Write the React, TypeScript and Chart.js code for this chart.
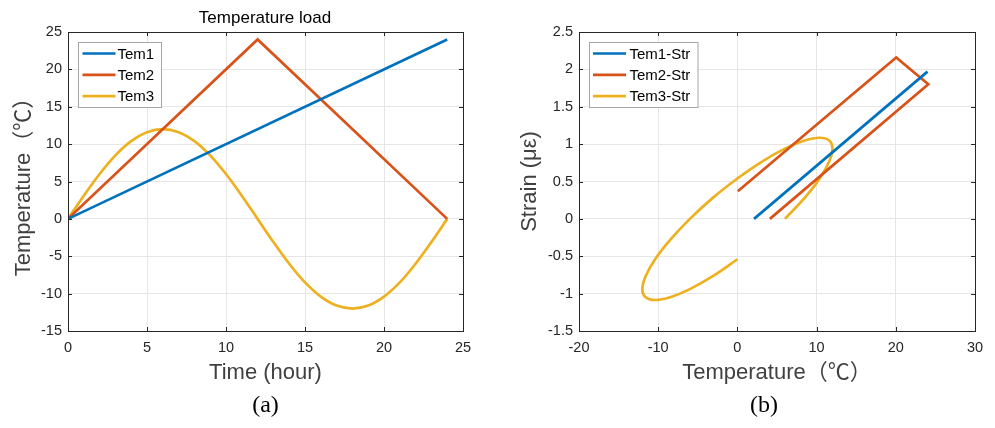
import React, { useEffect, useRef } from "react";
import { Chart, registerables } from "chart.js";

Chart.register(...registerables);

// ---------- data ----------
const tem1Time = [0, 24];
const tem1Temp = [0, 24];
const tem2Time = [0, 12, 24];
const tem2Temp = [0, 24, 0];
const tem3Time = [0, 1, 2, 3, 4, 5, 6, 7, 8, 9, 10, 11, 12, 13, 14, 15, 16, 17, 18, 19, 20, 21, 22, 23, 24];
const tem3Temp = [0, 3.1, 6, 8.5, 10.4, 11.6, 12, 11.6, 10.4, 8.5, 6, 3.1, 0, -3.1, -6, -8.5, -10.4, -11.6, -12, -11.6, -10.4, -8.5, -6, -3.1, 0];

const tem1StrTemp = [2.1, 24];
const tem1Strain = [0, 1.97];
const tem2StrTemp = [4.1, 24.1, 20.05, 0.05];
const tem2Strain = [0, 1.8, 2.16, 0.37];
const tem3StrTemp = [6.0, 8.49, 10.39, 11.59, 12, 11.59, 10.39, 8.49, 6.0, 3.11, 0, -3.11, -6.0, -8.49, -10.39, -11.59, -12, -11.59, -10.39, -8.49, -6.0, -3.11, 0];
const tem3Strain = [0, 0.281, 0.54, 0.767, 0.94, 1.048, 1.085, 1.048, 0.94, 0.767, 0.54, 0.281, 0, -0.281, -0.54, -0.767, -0.94, -1.048, -1.085, -1.048, -0.94, -0.767, -0.54];

const leftLabels = ["Tem1", "Tem2", "Tem3"];
const rightLabels = ["Tem1-Str", "Tem2-Str", "Tem3-Str"];
const seriesColors = ["#0072BD", "#D95319", "#EDB120"];

const SANS = "'Liberation Sans', Arial, 'Noto Sans CJK SC', sans-serif";
const SERIF = "'Liberation Serif', 'Times New Roman', serif";

function pts(xs: number[], ys: number[]) {
  return xs.map((x, i) => ({ x, y: ys[i] }));
}

type PanelCfg = {
  width: number;
  height: number;
  plotLeft: number;
  plotRight: number;
  plotTop: number;
  plotBottom: number;
  xMin: number;
  xMax: number;
  xStep: number;
  yMin: number;
  yMax: number;
  yStep: number;
  datasets: any[];
  legendLabels: string[];
  legendBox: { dx: number; dy: number; w: number; h: number; lineX0: number; lineX1: number; textX: number };
  xTitle: string;
  yTitle: string;
  yTitleX: number;
  xTitleY: number;
  topTitle?: string;
  topTitleX?: number;
  tag: string;
  tagX: number;
};

function fmt(v: number) {
  return String(Number(v.toFixed(3)));
}

function makeDeco(cfg: PanelCfg) {
  return {
    id: "deco",
    afterDraw(chart: any) {
      const ctx = chart.ctx as CanvasRenderingContext2D;
      const a = chart.chartArea;
      const xs = chart.scales.x;
      const ys = chart.scales.y;
      ctx.save();
      // box
      ctx.strokeStyle = "#262626";
      ctx.lineWidth = 1;
      ctx.strokeRect(Math.round(a.left) + 0.5, Math.round(a.top) + 0.5, Math.round(a.right - a.left), Math.round(a.bottom - a.top));
      // inner ticks
      const tl = 4;
      ctx.beginPath();
      xs.ticks.forEach((t: any) => {
        const px = Math.round(xs.getPixelForValue(t.value)) + 0.5;
        ctx.moveTo(px, a.bottom);
        ctx.lineTo(px, a.bottom - tl);
        ctx.moveTo(px, a.top);
        ctx.lineTo(px, a.top + tl);
      });
      ys.ticks.forEach((t: any) => {
        const py = Math.round(ys.getPixelForValue(t.value)) + 0.5;
        ctx.moveTo(a.left, py);
        ctx.lineTo(a.left + tl, py);
        ctx.moveTo(a.right, py);
        ctx.lineTo(a.right - tl, py);
      });
      ctx.stroke();

      // legend
      const lb = cfg.legendBox;
      const bx = Math.round(a.left + lb.dx) + 0.5;
      const by = Math.round(a.top + lb.dy) + 0.5;
      ctx.fillStyle = "#ffffff";
      ctx.fillRect(bx, by, lb.w, lb.h);
      ctx.strokeStyle = "#a6a6a6";
      ctx.lineWidth = 1;
      ctx.strokeRect(bx, by, lb.w, lb.h);
      ctx.font = `15px ${SANS}`;
      ctx.textBaseline = "middle";
      ctx.textAlign = "left";
      cfg.legendLabels.forEach((lab, i) => {
        const ry = by + 11 + i * 21.3;
        ctx.strokeStyle = seriesColors[i];
        ctx.lineWidth = 2.7;
        ctx.beginPath();
        ctx.moveTo(bx + lb.lineX0, ry);
        ctx.lineTo(bx + lb.lineX1, ry);
        ctx.stroke();
        ctx.fillStyle = "#000000";
        ctx.fillText(lab, bx + lb.textX, ry + 1);
      });

      // axis titles
      const cx = (a.left + a.right) / 2;
      const cy = (a.top + a.bottom) / 2;
      ctx.fillStyle = "#404040";
      ctx.font = `22px ${SANS}`;
      ctx.textAlign = "center";
      ctx.textBaseline = "middle";
      ctx.fillText(cfg.xTitle, cx, cfg.xTitleY);
      ctx.save();
      ctx.translate(cfg.yTitleX, cy);
      ctx.rotate(-Math.PI / 2);
      ctx.fillText(cfg.yTitle, 0, 0);
      ctx.restore();

      if (cfg.topTitle) {
        ctx.fillStyle = "#000000";
        ctx.font = `17px ${SANS}`;
        ctx.fillText(cfg.topTitle, cfg.topTitleX ?? cx, 18);
      }

      ctx.fillStyle = "#000000";
      ctx.font = `24px ${SERIF}`;
      ctx.fillText(cfg.tag, cfg.tagX, 406);
      ctx.restore();
    },
  };
}

function buildChart(canvas: HTMLCanvasElement, cfg: PanelCfg) {
  return new Chart(canvas, {
    type: "scatter",
    data: { datasets: cfg.datasets },
    options: {
      responsive: false,
      animation: false,
      devicePixelRatio: 1,
      layout: {
        padding: {
          left: 0,
          top: cfg.plotTop,
          right: cfg.width - cfg.plotRight,
          bottom: 0,
        },
      },
      plugins: {
        legend: { display: false },
        tooltip: { enabled: false },
        title: { display: false },
      },
      elements: { point: { radius: 0, hoverRadius: 0 } },
      scales: {
        x: {
          type: "linear",
          min: cfg.xMin,
          max: cfg.xMax,
          ticks: {
            stepSize: cfg.xStep,
            padding: 8,
            color: "#262626",
            font: { family: SANS, size: 14.5 },
            maxRotation: 0,
            callback: (v: any) => fmt(Number(v)),
          },
          grid: { color: "#e6e6e6", lineWidth: 1, drawTicks: false },
          border: { display: false },
          afterFit(scale: any) {
            scale.height = cfg.height - cfg.plotBottom;
          },
        },
        y: {
          type: "linear",
          min: cfg.yMin,
          max: cfg.yMax,
          ticks: {
            stepSize: cfg.yStep,
            padding: 6,
            color: "#262626",
            font: { family: SANS, size: 14.5 },
            callback: (v: any) => fmt(Number(v)),
          },
          grid: { color: "#e6e6e6", lineWidth: 1, drawTicks: false },
          border: { display: false },
          afterFit(scale: any) {
            scale.width = cfg.plotLeft;
          },
        },
      },
    } as any,
    plugins: [makeDeco(cfg)],
  });
}

function lineDs(label: string, data: any[], color: string, extra: any = {}) {
  return {
    label,
    data,
    showLine: true,
    borderColor: color,
    backgroundColor: color,
    borderWidth: 2.7,
    pointRadius: 0,
    fill: false,
    ...extra,
  };
}

const LEFT_W = 497;
const RIGHT_W = 498;
const H = 428;

export default function App() {
  const leftRef = useRef<HTMLCanvasElement>(null);
  const rightRef = useRef<HTMLCanvasElement>(null);

  useEffect(() => {
    const left = buildChart(leftRef.current!, {
      width: LEFT_W,
      height: H,
      plotLeft: 68,
      plotRight: 463,
      plotTop: 32,
      plotBottom: 331,
      xMin: 0,
      xMax: 25,
      xStep: 5,
      yMin: -15,
      yMax: 25,
      yStep: 5,
      datasets: [
        lineDs(leftLabels[0], pts(tem1Time, tem1Temp), seriesColors[0]),
        lineDs(leftLabels[1], pts(tem2Time, tem2Temp), seriesColors[1]),
        lineDs(leftLabels[2], pts(tem3Time, tem3Temp), seriesColors[2], { cubicInterpolationMode: "monotone" }),
      ],
      legendLabels: leftLabels,
      legendBox: { dx: 9.5, dy: 9.5, w: 83, h: 65, lineX0: 4, lineX1: 37, textX: 39 },
      xTitle: "Time (hour)",
      yTitle: "Temperature（℃）",
      yTitleX: 24,
      xTitleY: 373,
      topTitle: "Temperature load",
      topTitleX: 265,
      tag: "(a)",
      tagX: 265.5,
    });
    const right = buildChart(rightRef.current!, {
      width: RIGHT_W,
      height: H,
      plotLeft: 82,
      plotRight: 478,
      plotTop: 32,
      plotBottom: 331,
      xMin: -20,
      xMax: 30,
      xStep: 10,
      yMin: -1.5,
      yMax: 2.5,
      yStep: 0.5,
      datasets: [
        lineDs(rightLabels[0], pts(tem1StrTemp, tem1Strain), seriesColors[0]),
        lineDs(rightLabels[1], pts(tem2StrTemp, tem2Strain), seriesColors[1]),
        lineDs(rightLabels[2], pts(tem3StrTemp, tem3Strain), seriesColors[2], { tension: 0.4 }),
      ],
      legendLabels: rightLabels,
      legendBox: { dx: 9.5, dy: 9.5, w: 108.5, h: 65, lineX0: 3.5, lineX1: 36.5, textX: 40 },
      xTitle: "Temperature（℃）",
      yTitle: "Strain (με)",
      yTitleX: 33,
      xTitleY: 373,
      tag: "(b)",
      tagX: 267,
    });
    return () => {
      left.destroy();
      right.destroy();
    };
  }, []);

  return (
    <div style={{ position: "fixed", left: 0, top: 0, width: 995, height: H, background: "#ffffff" }}>
      <canvas
        ref={leftRef}
        width={LEFT_W}
        height={H}
        style={{ position: "absolute", left: 0, top: 0, width: LEFT_W, height: H }}
      />
      <canvas
        ref={rightRef}
        width={RIGHT_W}
        height={H}
        style={{ position: "absolute", left: LEFT_W, top: 0, width: RIGHT_W, height: H }}
      />
    </div>
  );
}
